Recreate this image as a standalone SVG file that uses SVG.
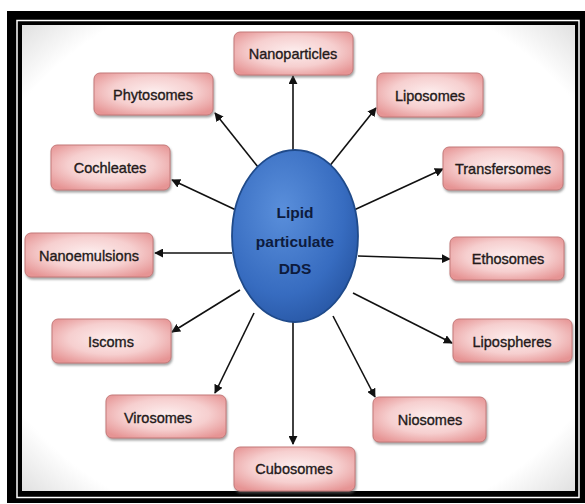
<svg xmlns="http://www.w3.org/2000/svg" width="585" height="504" viewBox="0 0 585 504">
<defs>
<radialGradient id="boxg" cx="50%" cy="45%" r="65%">
<stop offset="0" stop-color="#fdeeee"/>
<stop offset="0.55" stop-color="#f6cfcf"/>
<stop offset="1" stop-color="#e69494"/>
</radialGradient>
<radialGradient id="ellg" cx="40%" cy="35%" r="70%">
<stop offset="0" stop-color="#5a8fdb"/>
<stop offset="0.7" stop-color="#376cc0"/>
<stop offset="1" stop-color="#2857a5"/>
</radialGradient>
<radialGradient id="vign" cx="50%" cy="50%" r="75%">
<stop offset="0.8" stop-color="#ffffff"/>
<stop offset="1" stop-color="#d4d4d4"/>
</radialGradient>
<filter id="sh" x="-10%" y="-10%" width="130%" height="140%">
<feDropShadow dx="1" dy="2" stdDeviation="1.2" flood-color="#666" flood-opacity="0.6"/>
</filter>
<marker id="ah" viewBox="0 0 10 10" refX="9" refY="5" markerWidth="9" markerHeight="9" markerUnits="userSpaceOnUse" orient="auto">
<path d="M0,0 L10,5 L0,10 Z" fill="#111"/>
</marker>
<style>
.box{fill:url(#boxg);stroke:#c47a7a;stroke-width:1;filter:url(#sh)}
.lbl{font-family:"Liberation Sans",Arial,sans-serif;font-size:14.5px;fill:#241a1a;stroke:#241a1a;stroke-width:0.35;text-anchor:middle;dominant-baseline:central}
.ctr{font-family:"Liberation Sans",Arial,sans-serif;font-size:15.5px;font-weight:bold;fill:#0d1b3d;text-anchor:middle}
.conn line{stroke:#111;stroke-width:1.6;marker-end:url(#ah)}
</style>
</defs>
<rect x="0" y="0" width="585" height="504" fill="#ffffff"/>
<rect x="7" y="11" width="578" height="492" fill="#000"/>
<rect x="17" y="20.5" width="562" height="477" fill="none" stroke="#fff" stroke-width="1.5"/>
<rect x="22" y="25" width="553" height="466" fill="url(#vign)"/>
<g class="conn">
<line x1="293" y1="150" x2="293" y2="76"/>
<line x1="262" y1="172" x2="215" y2="113"/>
<line x1="328" y1="168" x2="376" y2="108"/>
<line x1="236" y1="210" x2="172" y2="180"/>
<line x1="354" y1="210" x2="443" y2="169"/>
<line x1="232" y1="253" x2="155" y2="253"/>
<line x1="358" y1="256" x2="450" y2="259"/>
<line x1="240" y1="290" x2="172" y2="332"/>
<line x1="353" y1="293" x2="452" y2="343"/>
<line x1="254" y1="313" x2="215" y2="393"/>
<line x1="333" y1="316" x2="375" y2="397"/>
<line x1="293" y1="322" x2="293" y2="444"/>
</g>
<g id="center">
<ellipse cx="295" cy="236" rx="63" ry="86" fill="url(#ellg)" stroke="#1f4a8a" stroke-width="1.8"/>
<text class="ctr" x="295" y="218">Lipid</text>
<text class="ctr" x="295" y="247">particulate</text>
<text class="ctr" x="295" y="274">DDS</text>
</g>
<g id="n-nanoparticles"><rect class="box" x="234" y="32" width="119" height="43" rx="6"/><text class="lbl" x="293" y="54">Nanoparticles</text></g>
<g id="n-phytosomes"><rect class="box" x="94" y="73" width="119" height="42" rx="6"/><text class="lbl" x="153" y="95">Phytosomes</text></g>
<g id="n-liposomes"><rect class="box" x="377" y="73" width="106" height="44" rx="6"/><text class="lbl" x="430" y="96">Liposomes</text></g>
<g id="n-cochleates"><rect class="box" x="51" y="145" width="119" height="45" rx="6"/><text class="lbl" x="110" y="168">Cochleates</text></g>
<g id="n-transfersomes"><rect class="box" x="443" y="147" width="120" height="43" rx="6"/><text class="lbl" x="503" y="169">Transfersomes</text></g>
<g id="n-nanoemulsions"><rect class="box" x="25" y="233" width="128" height="44" rx="6"/><text class="lbl" x="89" y="256">Nanoemulsions</text></g>
<g id="n-ethosomes"><rect class="box" x="450" y="237" width="114" height="43" rx="6"/><text class="lbl" x="508" y="259">Ethosomes</text></g>
<g id="n-iscoms"><rect class="box" x="52" y="319" width="119" height="44" rx="6"/><text class="lbl" x="111" y="342">Iscoms</text></g>
<g id="n-lipospheres"><rect class="box" x="453" y="319" width="119" height="43" rx="6"/><text class="lbl" x="512" y="342">Lipospheres</text></g>
<g id="n-virosomes"><rect class="box" x="106" y="395" width="120" height="43" rx="6"/><text class="lbl" x="158" y="418">Virosomes</text></g>
<g id="n-niosomes"><rect class="box" x="373" y="397" width="113" height="45" rx="6"/><text class="lbl" x="430" y="420">Niosomes</text></g>
<g id="n-cubosomes"><rect class="box" x="234" y="447" width="121" height="44" rx="6"/><text class="lbl" x="294" y="469">Cubosomes</text></g>
</svg>
